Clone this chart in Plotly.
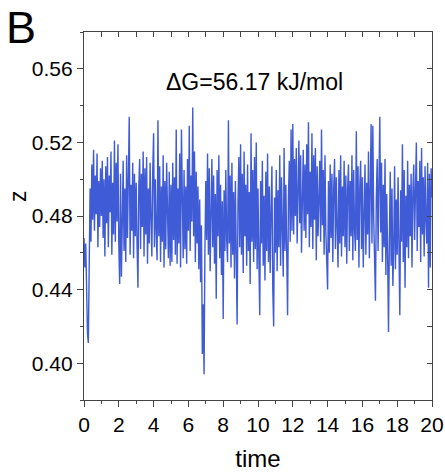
import numpy as np
import plotly.graph_objects as go

# time step 0.05, one row per unit of time
z_rows = [
    [0.468, 0.452, 0.465, 0.428, 0.416, 0.411, 0.455, 0.495, 0.466, 0.508, 0.478, 0.516, 0.472, 0.502, 0.481, 0.514, 0.463, 0.499, 0.474, 0.506],
    [0.480, 0.510, 0.468, 0.500, 0.458, 0.507, 0.476, 0.512, 0.463, 0.502, 0.482, 0.515, 0.459, 0.498, 0.470, 0.521, 0.466, 0.509, 0.477, 0.519],
    [0.465, 0.443, 0.503, 0.447, 0.476, 0.510, 0.461, 0.495, 0.455, 0.513, 0.468, 0.501, 0.534, 0.459, 0.497, 0.472, 0.509, 0.457, 0.503, 0.469],
    [0.498, 0.464, 0.441, 0.496, 0.511, 0.462, 0.503, 0.474, 0.515, 0.458, 0.506, 0.470, 0.512, 0.454, 0.495, 0.465, 0.509, 0.478, 0.458, 0.504],
    [0.525, 0.463, 0.500, 0.471, 0.456, 0.532, 0.469, 0.507, 0.455, 0.496, 0.466, 0.513, 0.452, 0.499, 0.462, 0.509, 0.475, 0.457, 0.504, 0.453],
    [0.497, 0.455, 0.509, 0.467, 0.501, 0.459, 0.527, 0.454, 0.495, 0.465, 0.514, 0.452, 0.527, 0.471, 0.457, 0.505, 0.462, 0.496, 0.454, 0.511],
    [0.472, 0.529, 0.461, 0.502, 0.477, 0.539, 0.469, 0.515, 0.455, 0.504, 0.465, 0.496, 0.451, 0.489, 0.444, 0.475, 0.405, 0.432, 0.394, 0.462],
    [0.499, 0.467, 0.514, 0.459, 0.506, 0.450, 0.496, 0.511, 0.463, 0.502, 0.454, 0.492, 0.435, 0.505, 0.469, 0.513, 0.457, 0.497, 0.448, 0.488],
    [0.424, 0.494, 0.461, 0.505, 0.467, 0.455, 0.532, 0.465, 0.502, 0.452, 0.509, 0.459, 0.493, 0.446, 0.499, 0.457, 0.421, 0.487, 0.512, 0.463],
    [0.519, 0.459, 0.503, 0.449, 0.515, 0.469, 0.497, 0.453, 0.508, 0.461, 0.493, 0.443, 0.525, 0.466, 0.505, 0.455, 0.512, 0.462, 0.520, 0.451],
    [0.495, 0.457, 0.426, 0.499, 0.465, 0.510, 0.453, 0.491, 0.445, 0.504, 0.461, 0.514, 0.455, 0.496, 0.449, 0.483, 0.507, 0.440, 0.420, 0.490],
    [0.460, 0.505, 0.450, 0.494, 0.463, 0.513, 0.453, 0.501, 0.469, 0.447, 0.517, 0.461, 0.497, 0.455, 0.426, 0.491, 0.510, 0.466, 0.527, 0.472],
    [0.530, 0.470, 0.511, 0.480, 0.517, 0.465, 0.505, 0.521, 0.476, 0.513, 0.460, 0.502, 0.516, 0.472, 0.508, 0.468, 0.519, 0.481, 0.531, 0.463],
    [0.504, 0.474, 0.525, 0.462, 0.513, 0.478, 0.517, 0.456, 0.507, 0.469, 0.499, 0.510, 0.466, 0.527, 0.475, 0.505, 0.459, 0.513, 0.471, 0.452],
    [0.440, 0.499, 0.460, 0.508, 0.468, 0.503, 0.455, 0.495, 0.511, 0.462, 0.501, 0.474, 0.452, 0.505, 0.465, 0.513, 0.458, 0.496, 0.469, 0.510],
    [0.463, 0.502, 0.454, 0.494, 0.508, 0.461, 0.499, 0.469, 0.513, 0.456, 0.505, 0.473, 0.461, 0.526, 0.467, 0.507, 0.452, 0.496, 0.510, 0.462],
    [0.501, 0.452, 0.492, 0.508, 0.459, 0.498, 0.470, 0.515, 0.457, 0.504, 0.530, 0.465, 0.529, 0.479, 0.455, 0.434, 0.490, 0.511, 0.461, 0.502],
    [0.534, 0.471, 0.509, 0.455, 0.497, 0.463, 0.511, 0.448, 0.492, 0.459, 0.417, 0.467, 0.504, 0.453, 0.495, 0.442, 0.462, 0.507, 0.451, 0.489],
    [0.459, 0.501, 0.448, 0.426, 0.494, 0.466, 0.519, 0.455, 0.505, 0.441, 0.491, 0.463, 0.510, 0.457, 0.497, 0.469, 0.503, 0.452, 0.493, 0.508],
    [0.467, 0.505, 0.520, 0.461, 0.499, 0.474, 0.510, 0.455, 0.517, 0.470, 0.501, 0.458, 0.507, 0.478, 0.465, 0.509, 0.441, 0.503, 0.452, 0.506],
]
z_end = 0.490
z = [v for row in z_rows for v in row] + [z_end]
time = np.round(np.arange(len(z)) * 0.05, 2)

blue = '#3f5bd6'
axcol = '#444444'
font = 'Liberation Sans, Arial, sans-serif'

fig = go.Figure()
fig.add_trace(go.Scatter(x=time, y=z, mode='lines', line=dict(color=blue, width=1.4),
                         showlegend=False))
# dummy trace so the top/right tick axes get drawn
fig.add_trace(go.Scatter(x=time, y=z, mode='lines', line=dict(width=0), xaxis='x2', yaxis='y2',
                         hoverinfo='skip', showlegend=False))

fig.update_layout(
    width=445, height=474,
    margin=dict(l=84, r=13, t=32, b=74, autoexpand=False),
    paper_bgcolor='white', plot_bgcolor='white',
    font=dict(family=font, size=21, color='black'),
    xaxis=dict(range=[0, 20], dtick=2, ticks='outside', ticklen=6, tickwidth=1.2, tickcolor=axcol,
               minor=dict(dtick=1, ticks='outside', ticklen=3, tickcolor=axcol),
               showline=True, linecolor=axcol, linewidth=1.2, mirror=True,
               showgrid=False, zeroline=False, automargin=False,
               title=dict(text='time', font=dict(size=24), standoff=14)),
    yaxis=dict(range=[0.38, 0.58], tickvals=[0.40, 0.44, 0.48, 0.52, 0.56], tickformat='.2f',
               ticks='outside', ticklen=6, tickwidth=1.2, tickcolor=axcol,
               minor=dict(dtick=0.02, ticks='outside', ticklen=3, tickcolor=axcol),
               showline=True, linecolor=axcol, linewidth=1.2, mirror=True,
               showgrid=False, zeroline=False, automargin=False),
    xaxis2=dict(overlaying='x', side='top', range=[0, 20], dtick=1, ticks='inside', ticklen=5,
                tickcolor=axcol, tickwidth=1.2, showticklabels=False, showgrid=False, zeroline=False,
                showline=False, automargin=False),
    yaxis2=dict(overlaying='y', side='right', range=[0.38, 0.58], dtick=0.02, ticks='inside', ticklen=5,
                tickcolor=axcol, tickwidth=1.2, showticklabels=False, showgrid=False, zeroline=False,
                showline=False, automargin=False),
)

fig.add_annotation(text='z', xref='paper', yref='paper', x=(18 - 84) / 348, y=(400 - 196) / 368,
                   textangle=-90, showarrow=False, font=dict(size=23), xanchor='center', yanchor='middle')
fig.add_annotation(text='ΔG=56.17 kJ/mol', xref='paper', yref='paper', x=(254 - 84) / 348,
                   y=(400 - 82) / 368, showarrow=False, font=dict(size=23),
                   xanchor='center', yanchor='middle')
fig.add_annotation(text='B', xref='paper', yref='paper', x=(4 - 84) / 348, y=(400 - 28) / 368,
                   showarrow=False, font=dict(size=45), xanchor='left', yanchor='middle')

fig.write_html("out.html", config={'displayModeBar': False},
               post_script="document.body.style.margin='0';document.body.style.overflow='hidden';")
